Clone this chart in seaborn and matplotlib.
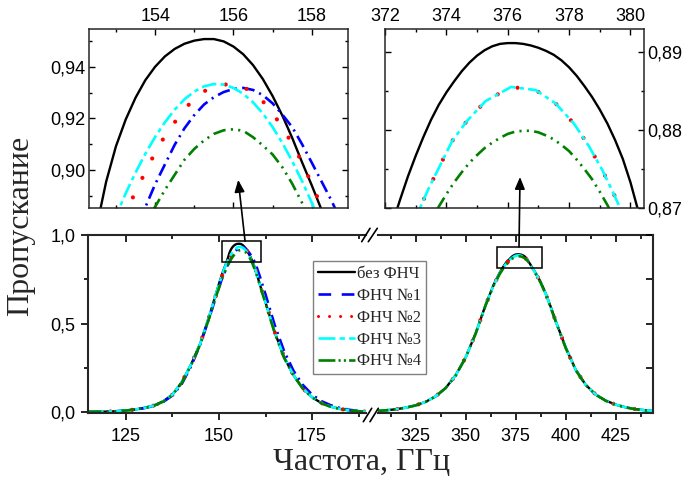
import matplotlib
matplotlib.use("Agg")
import matplotlib.pyplot as plt
import pandas as pd
import seaborn as sns
from matplotlib.lines import Line2D
from matplotlib.patches import Rectangle, ConnectionPatch
from matplotlib.ticker import FixedLocator, FixedFormatter, MultipleLocator, NullFormatter

# ---------------------------------------------------------------- data
series_names = ["без ФНЧ", "ФНЧ №1", "ФНЧ №2", "ФНЧ №3", "ФНЧ №4"]

# first pass band (around 155 GHz), common frequency grid, GHz
freq_b1 = [115, 117.5, 120, 122.5, 125, 127.5, 130, 132.5, 135, 137.5, 140, 142.5,
           145, 147.5, 149, 150, 151, 152,
           152.5, 152.75, 153.0, 153.25, 153.5, 153.75, 154.0, 154.25, 154.5, 154.75,
           155.0, 155.25, 155.5, 155.75, 156.0, 156.25, 156.5, 156.75, 157.0, 157.25,
           157.5, 157.75, 158.0, 158.25, 158.5, 158.75, 159.0,
           159.5, 160, 161, 162.5, 165, 167.5, 170, 172.5, 175, 177.5, 180, 182.5,
           185, 187.5, 190, 192.5]

t_b1_none = [.002, .003, .004, .006, .010, .016, .025, .038, .062, .10, .17, .27,
             .39, .55, .655, .725, .79, .845,
             .8775, .8955, .9092, .9196, .9280, .9348, .9400, .9440, .9469, .9489,
             .9501, .9507, .9507, .9498, .9478, .9448, .9406, .9352, .9286, .9210,
             .9124, .9030, .8940, .8845, .8748, .8630, .8510,
             .823, .79, .72, .62, .45, .31, .21, .135, .085, .052, .032, .019,
             .011, .006, .003, .002]

t_b1_f1 = [.002, .003, .004, .006, .010, .015, .024, .036, .058, .095, .16, .26,
           .385, .54, .64, .705, .765, .815,
           .838, .848, .858, .868, .8771, .8856, .8945, .9022, .9098, .9162,
           .9213, .9254, .9282, .9302, .9314, .9318, .9310, .9290, .9258, .9214,
           .9166, .9100, .9028, .8955, .8882, .8800, .8720,
           .852, .826, .765, .665, .49, .345, .235, .155, .10, .063, .04, .024,
           .014, .008, .004, .002]

t_b1_f2 = [.002, .003, .004, .006, .010, .016, .025, .038, .062, .10, .17, .27,
           .39, .55, .65, .715, .78, .835,
           .856, .866, .875, .8838, .8915, .8993, .9067, .9132, .9185, .9236,
           .9275, .9305, .9322, .9331, .9332, .9322, .9298, .9266, .9220, .9165,
           .9101, .9030, .8945, .8857, .8760, .865, .853,
           .825, .795, .725, .625, .452, .312, .21, .135, .085, .052, .032, .019,
           .011, .006, .003, .002]

t_b1_f3 = [.002, .003, .004, .006, .010, .016, .025, .038, .062, .10, .17, .27,
           .39, .55, .655, .72, .785, .84,
           .862, .8728, .8822, .8910, .8990, .9063, .9128, .9185, .9234, .9274,
           .9304, .9324, .9333, .9331, .9318, .9295, .9262, .9219, .9166, .9104,
           .9034, .8957, .8873, .8782, .868, .857, .846,
           .82, .79, .72, .62, .45, .31, .21, .135, .085, .052, .032, .019,
           .011, .006, .003, .002]

t_b1_f4 = [.002, .003, .004, .006, .010, .016, .025, .037, .060, .098, .165, .265,
           .385, .54, .64, .702, .762, .812,
           .835, .845, .855, .864, .872, .8795, .8858, .8923, .8982, .9040,
           .9082, .9115, .9140, .9154, .9158, .9152, .9127, .9095, .9060, .9010,
           .8947, .8873, .8795, .871, .861, .850, .838,
           .812, .783, .715, .615, .445, .307, .208, .134, .084, .051, .031, .019,
           .011, .006, .003, .002]

# second pass band (around 376 GHz)
freq_b2 = [305, 310, 315, 320, 325, 330, 335, 340, 345, 350, 355, 360, 364, 367,
           369, 370.5, 371.5,
           372.0, 372.25, 372.5, 372.75, 373.0, 373.25, 373.5, 373.75, 374.0, 374.25,
           374.5, 374.75, 375.0, 375.25, 375.5, 375.75, 376.0, 376.25, 376.5, 376.75,
           377.0, 377.25, 377.5, 377.75, 378.0, 378.25, 378.5, 378.75, 379.0, 379.25,
           379.5, 379.75, 380.0, 380.25, 380.5,
           381, 382, 383.5, 385, 387.5, 390, 392.5, 395, 400, 405, 410, 415, 420,
           425, 430, 435, 440, 445]

t_b2_none = [.007, .011, .017, .026, .039, .059, .090, .137, .21, .31, .445, .607,
             .72, .788, .825, .849, .8595,
             .8652, .8682, .8712, .8741, .8767, .8791, .8813, .8832, .8848, .8862,
             .8875, .8886, .8895, .8902, .8907, .8910, .8911, .8911, .8910, .8908,
             .8905, .8901, .8896, .8889, .8880, .8869, .8856, .8842, .8826, .8808,
             .8787, .8763, .8733, .8697, .8655,
             .857, .840, .812, .785, .735, .67, .595, .515, .365, .24, .155, .10,
             .066, .043, .028, .018, .011, .007]

t_b2_f4 = [.007, .011, .017, .026, .039, .059, .090, .137, .206, .31, .445, .605,
           .715, .78, .815, .835, .848,
           .8545, .8572, .8597, .8621, .8643, .8664, .8684, .8702, .8718, .8733,
           .8746, .8758, .8768, .8777, .8784, .8790, .8795, .8798, .8799, .8799,
           .8797, .8793, .8788, .8781, .8773, .8762, .8750, .8737, .8721, .8704,
           .8685, .8665, .8643, .8619, .8594,
           .854, .838, .81, .78, .73, .665, .59, .512, .363, .238, .154, .099,
           .065, .042, .027, .017, .011, .007]

# filters №2 and №3 in the second band are sampled more sparsely
freq_b2_pts = [305, 310, 315, 320, 325, 330, 335, 340, 345, 350, 355, 360, 364, 367,
               369, 370.5, 371.5,
               372.0, 372.5, 373.0, 373.43, 373.81, 374.19, 374.66, 375.28, 376.11,
               376.91, 377.56, 378.16, 378.65, 379.08, 379.46, 380.0, 380.5,
               381, 382, 383.5, 385, 387.5, 390, 392.5, 395, 400, 405, 410, 415, 420,
               425, 430, 435, 440, 445]

t_b2_f2 = [.007, .011, .017, .026, .039, .059, .090, .137, .208, .31, .445, .606,
           .717, .784, .82, .842, .853,
           .8598, .8643, .8688, .8726, .8756, .8786, .8811, .8837, .8855,
           .8851, .8834, .8808, .8779, .8749, .8718, .8670, .8622,
           .855, .839, .811, .783, .733, .668, .593, .514, .364, .239, .155, .10,
           .066, .043, .028, .018, .011, .007]

t_b2_f3 = [.007, .011, .017, .026, .039, .059, .090, .137, .208, .31, .445, .606,
           .717, .784, .82, .842, .853,
           .8598, .8643, .8688, .8726, .8756, .8786, .8811, .8837, .8855,
           .8851, .8834, .8808, .8779, .8749, .8718, .8670, .8622,
           .855, .839, .811, .783, .733, .668, .593, .514, .364, .239, .155, .10,
           .066, .043, .028, .018, .011, .007]

# ticks and labels
main_b1_xticks = [125, 150, 175]
main_b2_xticks = [325, 350, 375, 400, 425]
main_yticks = [0.0, 0.5, 1.0]
main_ylabels = ["0,0", "0,5", "1,0"]
zoom1_xticks = [154, 156, 158]
zoom1_yticks = [0.90, 0.92, 0.94]
zoom1_ylabels = ["0,90", "0,92", "0,94"]
zoom2_xticks = [372, 374, 376, 378, 380]
zoom2_yticks = [0.87, 0.88, 0.89]
zoom2_ylabels = ["0,87", "0,88", "0,89"]
x_title = "Частота, ГГц"
y_title = "Пропускание"

band1 = (pd.DataFrame({"freq": freq_b1,
                       series_names[0]: t_b1_none, series_names[1]: t_b1_f1,
                       series_names[2]: t_b1_f2, series_names[3]: t_b1_f3,
                       series_names[4]: t_b1_f4})
         .melt(id_vars="freq", var_name="series", value_name="T"))
band2 = pd.concat([
    pd.DataFrame({"series": series_names[0], "freq": freq_b2, "T": t_b2_none}),
    pd.DataFrame({"series": series_names[2], "freq": freq_b2_pts, "T": t_b2_f2}),
    pd.DataFrame({"series": series_names[3], "freq": freq_b2_pts, "T": t_b2_f3}),
    pd.DataFrame({"series": series_names[4], "freq": freq_b2, "T": t_b2_f4}),
], ignore_index=True)

# ---------------------------------------------------------------- style
sns.set_style("ticks")
plt.rcParams.update({
    "font.family": ["Liberation Sans", "DejaVu Sans"],
    "font.size": 13,
    "axes.linewidth": 1.5,
    "xtick.labelsize": 13,
    "ytick.labelsize": 13,
    "xtick.color": "black",
    "ytick.color": "black",
})
SERIF = ["Liberation Serif", "DejaVu Serif"]

line_style = {
    "без ФНЧ": dict(color="#000000", linewidth=1.7, linestyle="-"),
    "ФНЧ №1": dict(color="#0000ff", linewidth=1.9, linestyle=(0, (4.8, 2.0, 0.8, 2.0))),
    "ФНЧ №2": dict(color="#ff0000", linewidth=3.0, linestyle=(0, (0.01, 5.2)),
                   dash_capstyle="round"),
    "ФНЧ №3": dict(color="#00ffff", linewidth=1.9, linestyle=(0, (5.6, 1.6, 1.6, 1.6))),
    "ФНЧ №4": dict(color="#008000", linewidth=1.9,
                   linestyle=(0, (4.8, 2.0, 0.8, 2.0, 0.8, 2.0))),
}

W, H = 686, 484
fig = plt.figure(figsize=(W / 100, H / 100), dpi=100)


def box(x0, y0, x1, y1):
    """Pixel box (origin at top-left) -> figure-fraction rectangle."""
    return [x0 / W, 1 - y1 / H, (x1 - x0) / W, (y1 - y0) / H]


ax_l = fig.add_axes(box(88, 235, 366, 413))
ax_r = fig.add_axes(box(378, 235, 653, 413))
in_l = fig.add_axes(box(89.3, 29, 348.3, 208.3))
in_r = fig.add_axes(box(385, 29, 644, 208.3))


def draw(ax, df):
    for name in series_names:
        sub = df[df["series"] == name]
        if sub.empty:
            continue
        sns.lineplot(data=sub, x="freq", y="T", ax=ax, estimator=None, sort=False,
                     legend=False, **line_style[name])
    ax.set_xlabel("")
    ax.set_ylabel("")


for ax, df in [(ax_l, band1), (ax_r, band2), (in_l, band1), (in_r, band2)]:
    draw(ax, df)

# ---------------------------------------------------------------- main axes
ax_l.set_xlim(114.8, 189.5)
ax_r.set_xlim(306.15, 443.65)
for ax in (ax_l, ax_r):
    ax.set_ylim(-0.004, 1.0)

for ax, ticks in [(ax_l, main_b1_xticks), (ax_r, main_b2_xticks)]:
    ax.xaxis.set_major_locator(FixedLocator(ticks))
    ax.xaxis.set_major_formatter(FixedFormatter([str(t) for t in ticks]))
    ax.xaxis.set_minor_locator(MultipleLocator(12.5))
    ax.tick_params(axis="x", which="both", direction="out", bottom=True, top=False,
                   width=1.2, pad=6)
    ax.tick_params(axis="x", which="major", length=5)
    ax.tick_params(axis="x", which="minor", length=3)
    top = ax.secondary_xaxis("top")
    top.xaxis.set_major_locator(FixedLocator(ticks))
    top.xaxis.set_minor_locator(MultipleLocator(12.5))
    top.xaxis.set_major_formatter(NullFormatter())
    top.tick_params(axis="x", which="both", direction="in", width=1.2)
    top.tick_params(axis="x", which="major", length=5)
    top.tick_params(axis="x", which="minor", length=3)
    top.spines["top"].set_linewidth(1.5)
    ax.yaxis.set_major_locator(FixedLocator(main_yticks))
    ax.yaxis.set_minor_locator(MultipleLocator(0.25))

ax_l.spines["right"].set_visible(False)
ax_l.spines["top"].set_visible(False)
ax_l.yaxis.set_major_formatter(FixedFormatter(main_ylabels))
ax_l.tick_params(axis="y", which="both", direction="out", left=True, right=False,
                 width=1.2, pad=4)
ax_l.tick_params(axis="y", which="major", length=5)
ax_l.tick_params(axis="y", which="minor", length=3)

ax_r.spines["left"].set_visible(False)
ax_r.spines["top"].set_visible(False)
ax_r.yaxis.set_major_formatter(NullFormatter())
ax_r.tick_params(axis="y", which="both", direction="in", left=False, right=True,
                 labelleft=False, width=1.2, length=5)

# zoom boxes on the main peaks
ax_l.add_patch(Rectangle((150.8, 0.848), 10.5, 0.118, fill=False, ec="black",
                         lw=1.1, zorder=6))
ax_r.add_patch(Rectangle((365.65, 0.815), 22.5, 0.118, fill=False, ec="black",
                         lw=1.1, zorder=6))

# axis-break marks
for (x0, y0, x1, y1) in [(361.7, 241.7, 370.0, 228.3), (368.3, 241.7, 377.3, 228.3),
                         (363.3, 421.7, 371.7, 408.3), (370.0, 421.7, 378.3, 408.3)]:
    fig.add_artist(Line2D([x0 / W, x1 / W], [1 - y0 / H, 1 - y1 / H],
                          transform=fig.transFigure, color="black", lw=1.2))

# ---------------------------------------------------------------- insets
in_l.set_xlim(152.32, 158.93)
in_l.set_ylim(0.8852, 0.9546)
in_r.set_xlim(372.0, 380.44)
in_r.set_ylim(0.870, 0.8929)

for ax, xt, yt, yl, ymin in [(in_l, zoom1_xticks, zoom1_yticks, zoom1_ylabels, 0.01),
                             (in_r, zoom2_xticks, zoom2_yticks, zoom2_ylabels, 0.005)]:
    for s in ax.spines.values():
        s.set_linewidth(1.1)
    ax.xaxis.set_major_locator(FixedLocator(xt))
    ax.xaxis.set_major_formatter(FixedFormatter([str(t) for t in xt]))
    ax.xaxis.set_minor_locator(MultipleLocator(1))
    ax.tick_params(axis="x", which="both", direction="in", top=True, bottom=True,
                   labeltop=True, labelbottom=False, width=1.0, pad=3)
    ax.tick_params(axis="x", which="major", length=4)
    ax.tick_params(axis="x", which="minor", length=2.5)
    ax.yaxis.set_major_locator(FixedLocator(yt))
    ax.yaxis.set_major_formatter(FixedFormatter(yl))
    ax.yaxis.set_minor_locator(MultipleLocator(ymin))
    ax.tick_params(axis="y", which="both", direction="in", left=True, right=True,
                   width=1.0, pad=3)
    ax.tick_params(axis="y", which="major", length=4)
    ax.tick_params(axis="y", which="minor", length=2.5)

in_l.tick_params(axis="y", labelleft=True, labelright=False)
in_r.tick_params(axis="y", labelleft=False, labelright=True, pad=2)

# arrows from the zoom boxes to the insets
for axA, pA, axB, pB in [(ax_l, (157.0, 0.966), in_l, (156.12, 0.8962)),
                         (ax_r, (376.65, 0.933), in_r, (376.4, 0.874))]:
    con = ConnectionPatch(xyA=pA, coordsA=axA.transData, xyB=pB, coordsB=axB.transData,
                          arrowstyle="-|>,head_length=0.6,head_width=0.25",
                          mutation_scale=12, lw=1.2, color="black")
    fig.add_artist(con)

# ---------------------------------------------------------------- legend
legend_handles = [
    Line2D([], [], color="#000000", lw=1.7),
    Line2D([], [], color="#0000ff", lw=1.9, linestyle=(0, (4.8, 4.0))),
    Line2D([], [], color="#ff0000", lw=2.2, linestyle=(0, (0.01, 3.6)),
           dash_capstyle="round"),
    Line2D([], [], color="#00ffff", lw=1.9, linestyle=(0, (6.4, 1.6, 2.0, 1.6))),
    Line2D([], [], color="#008000", lw=1.9,
           linestyle=(0, (6.4, 1.2, 0.8, 1.2, 0.8, 1.2))),
]
leg = fig.legend(legend_handles, series_names, loc="upper left",
                 bbox_to_anchor=(313 / W, 1 - 261 / H), frameon=True, fancybox=False,
                 edgecolor="#808080", framealpha=1,
                 prop={"family": SERIF, "size": 12}, handlelength=2.2,
                 handletextpad=0.15, labelspacing=0.35, borderpad=0.3,
                 borderaxespad=0)
leg.get_frame().set_linewidth(1.0)

# ---------------------------------------------------------------- axis titles
fig.text(362 / W, 1 - 463 / H, x_title, ha="center", va="center",
         family=SERIF, size=23)
fig.text(21 / W, 1 - 226 / H, y_title, ha="center", va="center", rotation=90,
         family=SERIF, size=23)

fig.savefig("out.png", dpi=100)
